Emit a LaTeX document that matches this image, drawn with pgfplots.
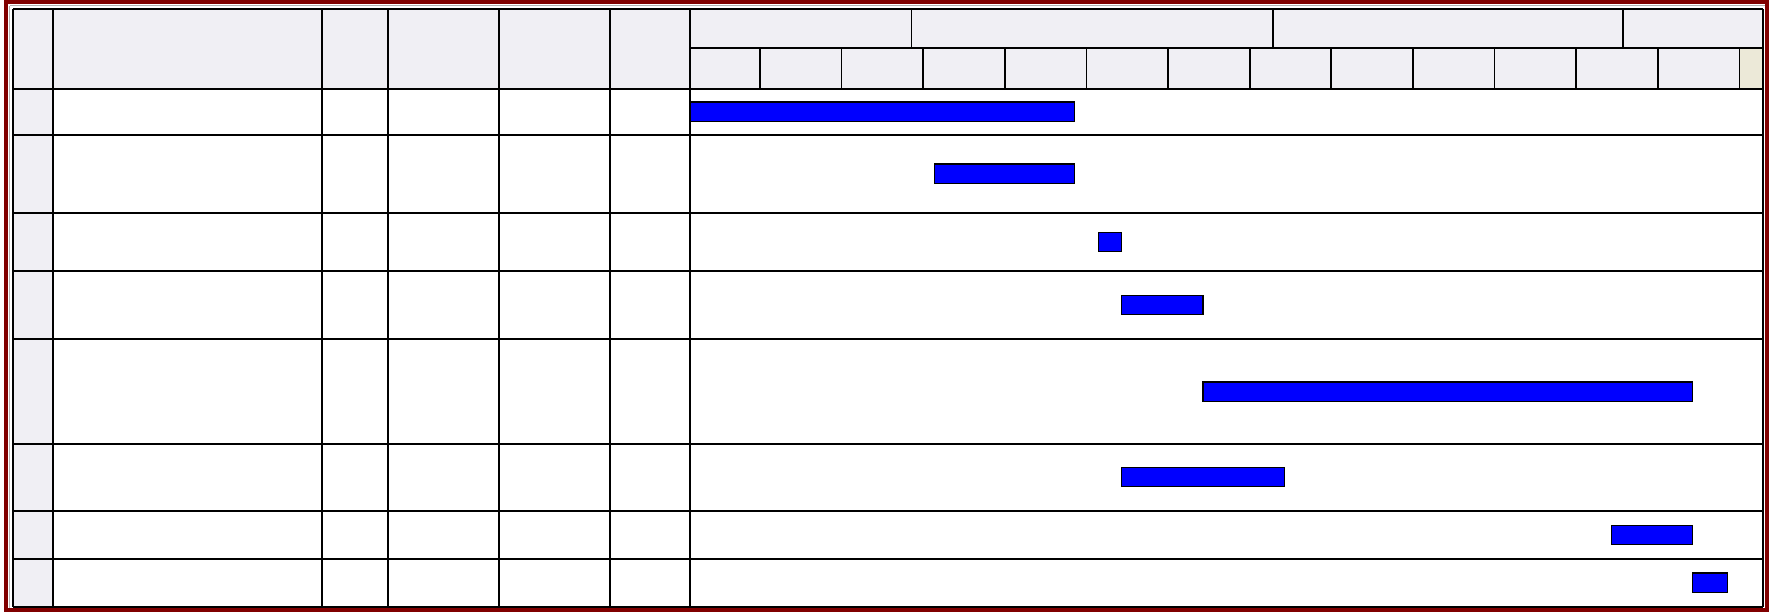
\documentclass[border=0pt]{standalone}
\usepackage{pgfplots}
\pgfplotsset{compat=1.18}
\definecolor{hdr}{RGB}{240,239,244}
\definecolor{beige}{RGB}{236,233,216}
\definecolor{frame}{RGB}{128,0,0}
\definecolor{barblue}{RGB}{0,0,255}
\begin{document}
\begin{tikzpicture}
% shading (1 px = 0.1 mm, origin at lower left of picture)
\fill[hdr] (1.3mm,52.33mm) rectangle (176.27mm,60.3mm);
\fill[hdr] (1.3mm,0.53mm) rectangle (5.3mm,60.3mm);
\fill[beige] (173.94mm,52.33mm) rectangle (176.27mm,56.35mm);
\begin{axis}[
  at={(0,0)}, anchor=south west,
  scale only axis, width=176.9mm, height=61.2mm,
  xmin=-59.177, xmax=92.539, ymin=0, ymax=612,
  y dir=reverse, hide axis, clip=false,
  xbar stacked, bar width=1.93mm,
]
% outer frame
\draw[frame, line width=0.42mm] (axis cs:-58.662,2) rectangle (axis cs:92.367,610);
\draw[gray!60, line width=0.1mm] (axis cs:-58.32,5.6) -- (axis cs:92.2,5.6);
\draw[gray!60, line width=0.1mm] (axis cs:-58.32,5.6) -- (axis cs:-58.32,607.5);
% horizontal rules
\draw[black, line width=0.2mm] (axis cs:-58.062,9) -- (axis cs:92,9);
\draw[black, line width=0.2mm] (axis cs:-58.062,88.7) -- (axis cs:92,88.7);
\draw[black, line width=0.2mm] (axis cs:-58.062,134.7) -- (axis cs:92,134.7);
\draw[black, line width=0.2mm] (axis cs:-58.062,212.7) -- (axis cs:92,212.7);
\draw[black, line width=0.2mm] (axis cs:-58.062,270.7) -- (axis cs:92,270.7);
\draw[black, line width=0.2mm] (axis cs:-58.062,339.3) -- (axis cs:92,339.3);
\draw[black, line width=0.2mm] (axis cs:-58.062,443.5) -- (axis cs:92,443.5);
\draw[black, line width=0.2mm] (axis cs:-58.062,510.7) -- (axis cs:92,510.7);
\draw[black, line width=0.2mm] (axis cs:-58.062,559) -- (axis cs:92,559);
\draw[black, line width=0.2mm] (axis cs:-58.062,606.7) -- (axis cs:92,606.7);
\draw[black, line width=0.2mm] (axis cs:0,48.5) -- (axis cs:92,48.5);
% vertical rules
\draw[black, line width=0.2mm] (axis cs:-58.062,9) -- (axis cs:-58.062,606.7);
\draw[black, line width=0.2mm] (axis cs:-54.631,9) -- (axis cs:-54.631,606.7);
\draw[black, line width=0.2mm] (axis cs:-31.604,9) -- (axis cs:-31.604,606.7);
\draw[black, line width=0.2mm] (axis cs:-25.901,9) -- (axis cs:-25.901,606.7);
\draw[black, line width=0.2mm] (axis cs:-16.381,9) -- (axis cs:-16.381,606.7);
\draw[black, line width=0.2mm] (axis cs:-6.861,9) -- (axis cs:-6.861,606.7);
\draw[black, line width=0.2mm] (axis cs:0,9) -- (axis cs:0,606.7);
\draw[black, line width=0.2mm] (axis cs:92,9) -- (axis cs:92,606.7);
% month separators
\draw[black, line width=0.18mm] (axis cs:19,9) -- (axis cs:19,48.5);
\draw[black, line width=0.18mm] (axis cs:50,9) -- (axis cs:50,48.5);
\draw[black, line width=0.18mm] (axis cs:80,9) -- (axis cs:80,48.5);
% week separators
\draw[black, line width=0.18mm] (axis cs:6,48.5) -- (axis cs:6,88.7);
\draw[black, line width=0.18mm] (axis cs:13,48.5) -- (axis cs:13,88.7);
\draw[black, line width=0.18mm] (axis cs:20,48.5) -- (axis cs:20,88.7);
\draw[black, line width=0.18mm] (axis cs:27,48.5) -- (axis cs:27,88.7);
\draw[black, line width=0.18mm] (axis cs:34,48.5) -- (axis cs:34,88.7);
\draw[black, line width=0.18mm] (axis cs:41,48.5) -- (axis cs:41,88.7);
\draw[black, line width=0.18mm] (axis cs:48,48.5) -- (axis cs:48,88.7);
\draw[black, line width=0.18mm] (axis cs:55,48.5) -- (axis cs:55,88.7);
\draw[black, line width=0.18mm] (axis cs:62,48.5) -- (axis cs:62,88.7);
\draw[black, line width=0.18mm] (axis cs:69,48.5) -- (axis cs:69,88.7);
\draw[black, line width=0.18mm] (axis cs:76,48.5) -- (axis cs:76,88.7);
\draw[black, line width=0.18mm] (axis cs:83,48.5) -- (axis cs:83,88.7);
\draw[black, line width=0.18mm] (axis cs:90,48.5) -- (axis cs:90,88.7);
% Gantt bars: invisible offset (start day) + visible duration (days)
\addplot[draw=none, fill=none] coordinates {
 (0,111.7) (21,173.7) (35,241.8) (37,305) (44,391.6) (37,477.1) (79,534.8) (86,582.7)};
\addplot[fill=barblue, draw=black, line width=0.12mm] coordinates {
 (33,111.7) (12,173.7) (2,241.8) (7,305) (42,391.6) (14,477.1) (7,534.8) (3,582.7)};
\end{axis}
\pgfresetboundingbox
\path (0,0) rectangle (176.9mm,61.2mm);
\end{tikzpicture}
\end{document}
